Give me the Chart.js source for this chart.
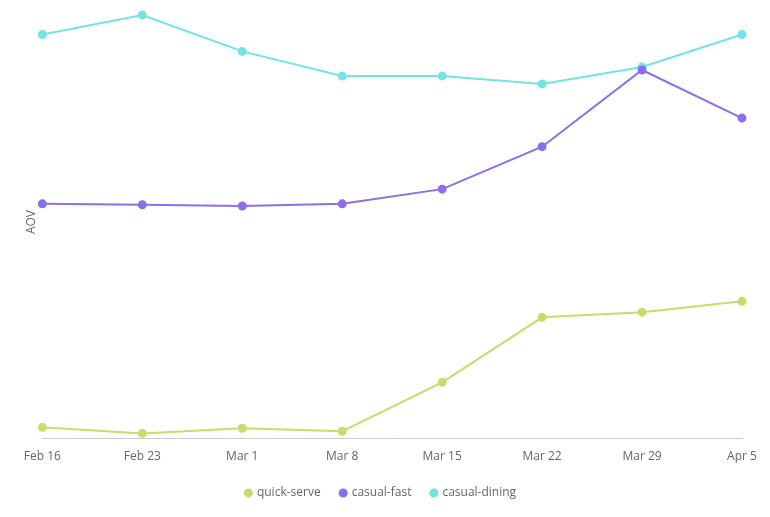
<!DOCTYPE html>
<html><head><script src="https://cdn.jsdelivr.net/npm/chart.js"></script>
<style>body{margin:0;background:#fff}#w{width:770px;height:517px}</style></head>
<body><div id="w"><canvas id="c"></canvas></div>
<script>
const categories=["Feb 16","Feb 23","Mar 1","Mar 8","Mar 15","Mar 22","Mar 29","Apr 5"];
const quickServe=[0.16,0.02,0.14,0.07,1.2,2.7,2.82,3.07];
const casualFast=[5.32,5.3,5.27,5.32,5.66,6.64,8.41,7.3];
const casualDining=[9.23,9.68,8.84,8.27,8.27,8.09,8.48,9.23];
const mk=(l,d,c)=>({label:l,data:d,borderColor:c,backgroundColor:c,pointRadius:3.5,pointHoverRadius:3.5,borderWidth:2,tension:0});
new Chart(document.getElementById('c'),{type:'line',
data:{labels:categories,datasets:[mk('quick-serve',quickServe,'#c2df6c'),mk('casual-fast',casualFast,'#8d6ded'),mk('casual-dining',casualDining,'#74e3e3')]},
options:{responsive:true,maintainAspectRatio:false,animation:false,
layout:{padding:{left:20,right:28,top:4,bottom:8}},
plugins:{legend:{position:'bottom',labels:{usePointStyle:true,pointStyle:'circle',boxWidth:5,boxHeight:5,padding:20,color:'#666',font:{family:'Open Sans',size:12}}},tooltip:{enabled:false}},
scales:{x:{grid:{display:false},border:{color:'#ccc'},ticks:{color:'#666',font:{family:'Open Sans',size:12}}},
y:{min:-0.1,max:9.9,ticks:{display:false,stepSize:1},grid:{color:c=>(c.tick&&Number.isInteger(c.tick.value)&&c.tick.value>0)?'#e6e6e6':'rgba(0,0,0,0)',drawTicks:false},border:{display:false},
title:{display:true,text:'AOV',color:'#666',font:{family:'Open Sans',size:12}}}}}});
</script></body></html>
